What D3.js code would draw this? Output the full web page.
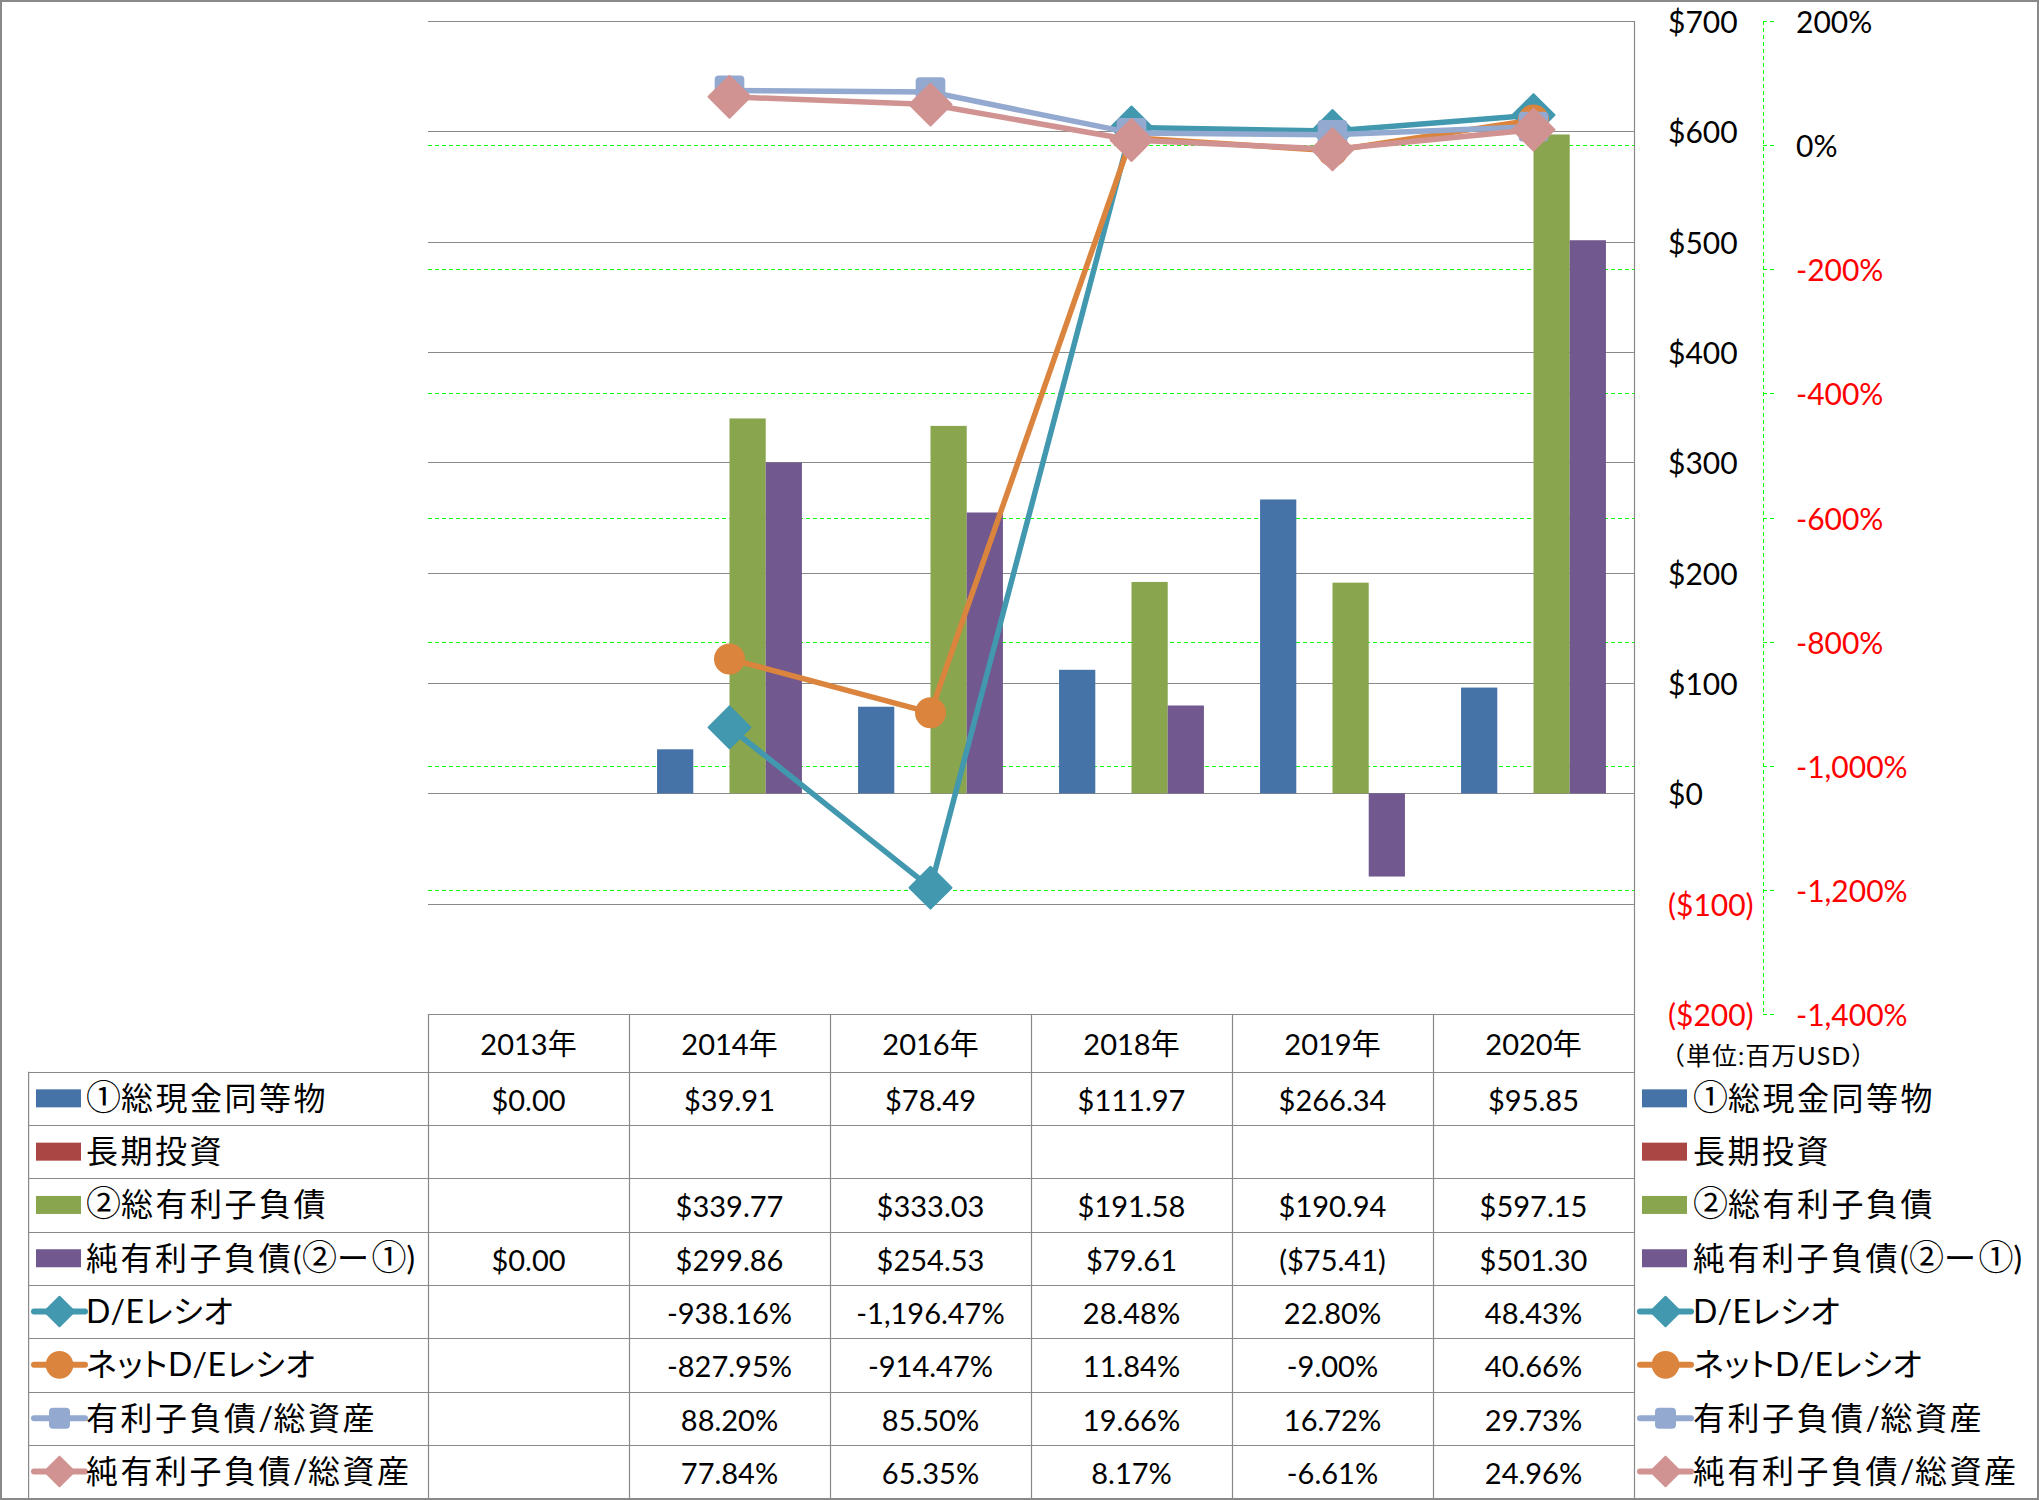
<!DOCTYPE html>
<html>
<head>
<meta charset="utf-8">
<script src="https://cdnjs.cloudflare.com/ajax/libs/d3/7.8.5/d3.min.js"></script>
<style>
  html, body { margin: 0; padding: 0; background: #fff; }
  svg { display: block; }
  text { font-family: Lato, "Noto Sans CJK JP", sans-serif; }
  tspan.kana { font-feature-settings: "palt" 1; }
</style>
</head>
<body>
<svg id="chart" width="2039" height="1500"></svg>
<script>
// ---------------- DATA ----------------
const categories = ["2013年", "2014年", "2016年", "2018年", "2019年", "2020年"];

const cashEquivalents = [0, 39.91, 78.49, 111.97, 266.34, 95.85];      // ①総現金同等物
const longTermInvest  = [null, null, null, null, null, null];          // 長期投資
const totalDebt       = [null, 339.77, 333.03, 191.58, 190.94, 597.15]; // ②総有利子負債
const netDebt         = [0, 299.86, 254.53, 79.61, -75.41, 501.30];     // 純有利子負債(②ー①)

const deRatio         = [null, -938.16, -1196.47, 28.48, 22.80, 48.43];   // D/Eレシオ
const netDeRatio      = [null, -827.95, -914.47, 11.84, -9.00, 40.66];    // ネットD/Eレシオ
const debtToAssets    = [null, 88.20, 85.50, 19.66, 16.72, 29.73];        // 有利子負債/総資産
const netDebtToAssets = [null, 77.84, 65.35, 8.17, -6.61, 24.96];         // 純有利子負債/総資産

const leftTicks  = [700, 600, 500, 400, 300, 200, 100, 0, -100, -200];
const rightTicks = [200, 0, -200, -400, -600, -800, -1000, -1200, -1400];

const barNames  = ["①総現金同等物", "長期投資", "②総有利子負債", "純有利子負債(②ー①)"];
const barColors = ["#4572A7", "#AA4643", "#89A54E", "#71588F"];
const lineNames  = ["D/Eレシオ", "ネットD/Eレシオ", "有利子負債/総資産", "純有利子負債/総資産"];
const lineColors = ["#4198AF", "#DB843D", "#93A9CF", "#D19392"];
const lineMarkers = ["diamond", "circle", "square", "diamond"];
const unitLabel = "（単位:百万USD）";

// ---------------- SETUP ----------------
const barValues  = [cashEquivalents, longTermInvest, totalDebt, netDebt];
const lineValues = [deRatio, netDeRatio, debtToAssets, netDebtToAssets];

const W = 2039, H = 1500;
const plotL = 428, plotR = 1634, plotT = 21, plotB = 1014;
const tableLeft = 28.6, headerBottom = 1071.7, rowH = 53.3;

const loc = d3.formatLocale({decimal: ".", thousands: ",", grouping: [3], currency: ["$", ""], minus: "-"});
const f2 = loc.format(",.2f");
const f0 = loc.format(",");
const fmtDollar = v => v == null ? "" : (v < 0 ? "($" + f2(-v) + ")" : "$" + f2(v));
const fmtPct = v => v == null ? "" : f2(v) + "%";
const axisDollar = v => v < 0 ? "($" + f0(-v) + ")" : "$" + f0(v);
const axisPct = v => f0(v) + "%";

const svg = d3.select("#chart");
const GRAY = "#898989";
const GREEN = "#00FF00";

const x0 = d3.scaleBand().domain(categories).range([plotL, plotR]).padding(0);
const x1 = d3.scaleBand().domain(barNames).range([0, x0.bandwidth()]).paddingInner(0).paddingOuter(0.775);
const yL = d3.scaleLinear().domain([-200, 700]).range([plotB, plotT]);
const yR = d3.scaleLinear().domain([-1400, 200]).range([plotB, plotT]);

svg.append("rect").attr("x", 0).attr("y", 0).attr("width", W).attr("height", H).attr("fill", "#fff");

// ---------------- GRIDLINES ----------------
const gGrid = svg.append("g");
gGrid.selectAll("line.g2").data(rightTicks).join("line")
  .attr("x1", plotL).attr("x2", plotR)
  .attr("y1", d => Math.round(yR(d)) + 0.5).attr("y2", d => Math.round(yR(d)) + 0.5)
  .attr("stroke", GREEN).attr("stroke-width", 1).attr("stroke-dasharray", "4,3");
gGrid.selectAll("line.g1").data(leftTicks).join("line")
  .attr("x1", plotL).attr("x2", plotR)
  .attr("y1", d => Math.round(yL(d)) + 0.5).attr("y2", d => Math.round(yL(d)) + 0.5)
  .attr("stroke", GRAY).attr("stroke-width", 1.2);

svg.append("line").attr("x1", plotR + 0.5).attr("x2", plotR + 0.5).attr("y1", plotT).attr("y2", plotB)
  .attr("stroke", GRAY).attr("stroke-width", 1.2);

// ---------------- BARS ----------------
const gBars = svg.append("g");
barValues.forEach((vals, si) => {
  gBars.selectAll(null).data(vals.map((v, i) => ({v, c: categories[i]})).filter(d => d.v != null))
    .join("rect")
    .attr("x", d => x0(d.c) + x1(barNames[si]))
    .attr("width", x1.bandwidth())
    .attr("y", d => yL(Math.max(0, d.v)))
    .attr("height", d => Math.abs(yL(d.v) - yL(0)))
    .attr("fill", barColors[si]);
});

// ---------------- LINES ----------------
function drawMarker(g, type, cx, cy, size, color) {
  if (type === "diamond") {
    g.append("path").attr("d", d3.symbol(d3.symbolSquare, size)())
      .attr("transform", `translate(${cx},${cy}) rotate(45)`)
      .attr("fill", color).attr("stroke", color).attr("stroke-width", 2).attr("stroke-linejoin", "round");
  } else if (type === "square") {
    const s = Math.sqrt(size);
    g.append("rect").attr("x", cx - s / 2).attr("y", cy - s / 2).attr("width", s).attr("height", s)
      .attr("rx", 4).attr("fill", color);
  } else {
    g.append("path").attr("d", d3.symbol(d3.symbolCircle, size)())
      .attr("transform", `translate(${cx},${cy})`).attr("fill", color);
  }
}
const cx = c => x0(c) + x0.bandwidth() / 2;
const gLines = svg.append("g");
lineValues.forEach((vals, si) => {
  const pts = vals.map((v, i) => ({v, c: categories[i]}));
  const line = d3.line().defined(d => d.v != null).x(d => cx(d.c)).y(d => yR(d.v));
  gLines.append("path").attr("d", line(pts)).attr("fill", "none")
    .attr("stroke", lineColors[si]).attr("stroke-width", 5.5).attr("stroke-linejoin", "round");
  const mSize = lineMarkers[si] === "circle" ? 755 : 880;
  pts.filter(d => d.v != null).forEach(d => drawMarker(gLines, lineMarkers[si], cx(d.c), yR(d.v), mSize, lineColors[si]));
});

// ---------------- AXES ----------------
const gAx = svg.append("g");
gAx.selectAll("text.l").data(leftTicks).join("text")
  .attr("x", 1668).attr("y", d => yL(d)).attr("dominant-baseline", "central")
  .attr("font-size", 30).attr("fill", d => d < 0 ? "#FF0000" : "#000").text(axisDollar);

const axR = 1763;
gAx.append("line").attr("x1", axR + 0.5).attr("x2", axR + 0.5).attr("y1", plotT).attr("y2", plotB)
  .attr("stroke", GREEN).attr("stroke-width", 1).attr("stroke-dasharray", "4,3");
gAx.selectAll("line.t").data(rightTicks).join("line")
  .attr("x1", axR).attr("x2", axR + 11)
  .attr("y1", d => Math.round(yR(d)) + 0.5).attr("y2", d => Math.round(yR(d)) + 0.5)
  .attr("stroke", GREEN).attr("stroke-width", 1).attr("stroke-dasharray", "4,3");
gAx.selectAll("text.r").data(rightTicks).join("text")
  .attr("x", 1796).attr("y", d => yR(d)).attr("dominant-baseline", "central")
  .attr("font-size", 30).attr("fill", d => d < 0 ? "#FF0000" : "#000").text(axisPct);

gAx.append("text").attr("x", 1660).attr("y", 1065)
  .attr("font-size", 25).attr("letter-spacing", 1)
  .attr("font-family", "'Noto Sans CJK JP', sans-serif").attr("fill", "#000").text(unitLabel);

// ---------------- DATA TABLE ----------------
const rows = [];
barNames.forEach((n, i) => rows.push({name: n, kind: "bar", color: barColors[i], vals: barValues[i], fmt: fmtDollar}));
lineNames.forEach((n, i) => rows.push({name: n, kind: "line", color: lineColors[i], marker: lineMarkers[i], vals: lineValues[i], fmt: fmtPct}));

const gT = svg.append("g");
const tableBottom = headerBottom + rowH * rows.length;
gT.append("line").attr("x1", plotL).attr("x2", plotR).attr("y1", plotB + 0.5).attr("y2", plotB + 0.5)
  .attr("stroke", GRAY).attr("stroke-width", 1.2);
d3.range(rows.length + 1).forEach(i => {
  const y = Math.round(headerBottom + rowH * i) + 0.5;
  gT.append("line").attr("x1", tableLeft).attr("x2", plotR).attr("y1", y).attr("y2", y)
    .attr("stroke", GRAY).attr("stroke-width", 1.2);
});
categories.forEach(c => {
  const x = Math.round(x0(c)) + 0.5;
  gT.append("line").attr("x1", x).attr("x2", x).attr("y1", plotB).attr("y2", tableBottom)
    .attr("stroke", GRAY).attr("stroke-width", 1.2);
});
gT.append("line").attr("x1", plotR + 0.5).attr("x2", plotR + 0.5).attr("y1", plotB).attr("y2", tableBottom)
  .attr("stroke", GRAY).attr("stroke-width", 1.2);
gT.append("line").attr("x1", tableLeft).attr("x2", tableLeft).attr("y1", headerBottom).attr("y2", tableBottom)
  .attr("stroke", GRAY).attr("stroke-width", 1.2);

gT.selectAll("text.h").data(categories).join("text")
  .attr("x", d => cx(d)).attr("y", (plotB + headerBottom) / 2 + 1)
  .attr("text-anchor", "middle").attr("dominant-baseline", "central")
  .attr("font-size", 29).attr("fill", "#000").text(d => d);

function legendKey(g, r, x, y) {
  if (r.kind === "bar") {
    g.append("rect").attr("x", x).attr("y", y - 9).attr("width", 45).attr("height", 18).attr("fill", r.color);
  } else {
    g.append("line").attr("x1", x - 2).attr("x2", x + 49).attr("y1", y).attr("y2", y)
      .attr("stroke", r.color).attr("stroke-width", 6).attr("stroke-linecap", "round");
    const size = r.marker === "circle" ? 600 : 440;
    drawMarker(g, r.marker, x + 23.5, y, size, r.color);
  }
}

function legendLabel(g, name, x, yc) {
  const t = g.append("text").attr("x", x).attr("y", yc + 11.5)
    .attr("font-size", 32).attr("fill", "#000");
  const runs = name.match(/[①②]|[A-Za-z\/()]+|[\u30A0-\u30FF]+|[^①②A-Za-z\/()\u30A0-\u30FF]+/g);
  runs.forEach(s => {
    const ts = t.append("tspan").text(s);
    if (/[①②]/.test(s)) {
      ts.attr("font-size", 35).attr("font-family", "'Noto Sans CJK JP', sans-serif").attr("letter-spacing", 0);
    } else if (/[A-Za-z\/()]/.test(s)) {
      ts.attr("letter-spacing", 0.5);
    } else if (/[\u30A0-\u30FF]/.test(s) && s !== "ー") {
      ts.attr("class", "kana").attr("letter-spacing", 0.5);
    } else {
      ts.attr("letter-spacing", 2.5);
    }
  });
}

rows.forEach((r, i) => {
  const yc = headerBottom + rowH * (i + 0.5);
  legendKey(gT, r, 36, yc);
  legendLabel(gT, r.name, 86, yc);
  legendKey(gT, r, 1642, yc);
  legendLabel(gT, r.name, 1693, yc);
  r.vals.forEach((v, j) => {
    if (v == null) return;
    gT.append("text").attr("x", cx(categories[j])).attr("y", yc + 1)
      .attr("text-anchor", "middle").attr("dominant-baseline", "central")
      .attr("font-size", 29).attr("fill", "#000").text(r.fmt(v));
  });
});

svg.append("rect").attr("x", 1).attr("y", 1).attr("width", W - 2).attr("height", H - 2)
  .attr("fill", "none").attr("stroke", GRAY).attr("stroke-width", 2);
</script>
</body>
</html>
